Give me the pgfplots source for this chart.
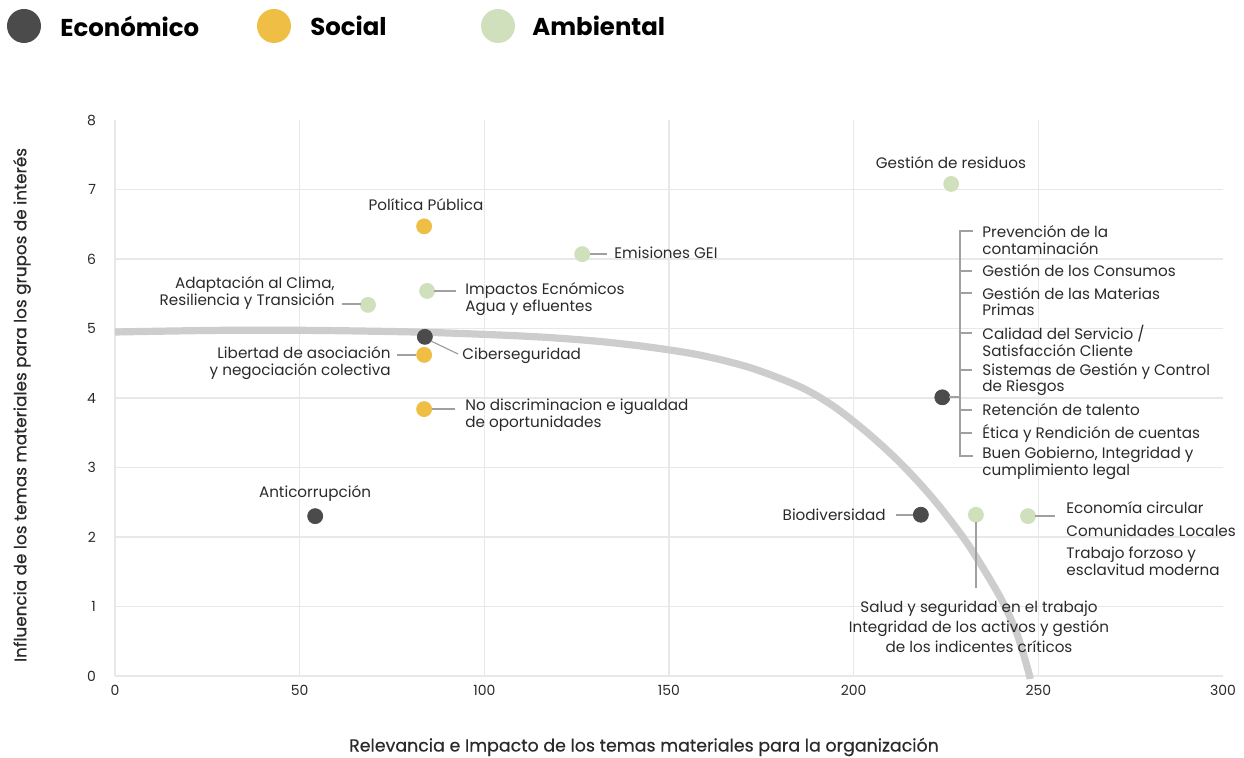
\documentclass[border=0pt]{standalone}
\usepackage{fontspec}
\setmainfont{Poppins}
\usepackage{pgfplots}
\pgfplotsset{compat=1.18}
\definecolor{eco}{HTML}{4B4B4B}
\definecolor{soc}{HTML}{EFBE45}
\definecolor{amb}{HTML}{D0E0BD}
\definecolor{curvec}{HTML}{CDCDCD}
\definecolor{gridc}{HTML}{E8E8E8}
\definecolor{lead}{HTML}{A0A0A0}
\definecolor{txt}{HTML}{2A2A2A}
\newcommand{\lf}{\fontsize{7.6}{8.4}\selectfont}
\begin{document}
\begin{tikzpicture}
\begin{axis}[
  scale only axis, width=554pt, height=278pt,
  xmin=0, xmax=300, ymin=0, ymax=8,
  axis line style={draw=none},
  tick style={draw=none},
  xtick={0,50,...,250}, extra x ticks={300}, extra x tick style={grid=none},
  ytick={0,...,7}, extra y ticks={8}, extra y tick style={grid=none},
  grid=major, grid style={gridc, line width=0.6pt},
  clip=false,
  tick label style={font=\fontsize{7}{8}\selectfont, text=txt},
  /pgf/number format/assume math mode=true,
  yticklabel style={xshift=-6pt},
  xticklabel style={yshift=-1pt},
]
\addplot[curvec, line width=3.6pt, smooth, tension=0.5] coordinates {
(0,4.950) (23.02,4.970) (36.56,4.976) (50.10,4.974) (63.65,4.966) (83.94,4.946)
(104.25,4.906) (117.79,4.869) (131.33,4.813) (144.87,4.731) (158.41,4.617)
(171.95,4.437) (185.49,4.161) (194.43,3.886) (203.63,3.504) (212.57,3.069)
(221.51,2.551) (230.71,1.914) (239.64,1.138) (244.25,0.601) (247.23,0.082) (247.77,-0.043)};
% Economico
\addplot[only marks, mark=*, mark size=3.75pt, color=eco] coordinates {
(83.9,4.88) (224.0,4.01) (54.2,2.30) (218.2,2.32)};
% Social
\addplot[only marks, mark=*, mark size=3.75pt, color=soc] coordinates {
(83.7,6.47) (83.7,4.62) (83.7,3.84)};
% Ambiental
\addplot[only marks, mark=*, mark size=3.75pt, color=amb] coordinates {
(226.4,7.08) (126.5,6.07) (84.5,5.54) (68.5,5.34) (233.1,2.32) (247.2,2.30)};
\end{axis}
\begin{scope}[x=0.5pt, y=-0.5pt, shift={(-57.5pt,338pt)}, every node/.style={text=txt, font=\lf, inner sep=0pt}]
% legend
\fill[eco] (24,26) circle (17);
\fill[soc] (274,26) circle (17);
\fill[amb] (498,26) circle (17);
\node[anchor=west, font=\fontsize{12.2}{14}\selectfont\bfseries, text=black] at (60,26) {Económico};
\node[anchor=west, font=\fontsize{12.2}{14}\selectfont\bfseries, text=black] at (310,26) {Social};
\node[anchor=west, font=\fontsize{12.2}{14}\selectfont\bfseries, text=black] at (532,26) {Ambiental};
% axis titles
\node[font=\fontsize{8.7}{10}\selectfont\addfontfeature{FakeBold=0.4}] at (644,747) {Relevancia e Impacto de los temas materiales para la organización};
\node[font=\fontsize{8.4}{10}\selectfont\addfontfeature{FakeBold=0.4}, rotate=90] at (22,405) {Influencia de los temas materiales para los grupos de interés};
% leader lines
\begin{scope}[lead, line width=0.6pt]
\draw (342,304) -- (361,304);
\draw (434,291) -- (456,291);
\draw (590,254) -- (607,254);
\draw (397,355) -- (416,355);
\draw (431,341) -- (458,354);
\draw (432,409) -- (455,409);
\draw (896,515) -- (913,515);
\draw (976,522) -- (976,588);
\draw (1035,516) -- (1055,516);
\draw (949,397) -- (960,397);
\draw (973,231) -- (960,231) -- (960,456) -- (973,456);
\foreach \yy in {271,293,333,370,410,433} \draw (960,\yy) -- (972,\yy);
\end{scope}
% labels
\node at (426,205) {Política Pública};
\node[anchor=east, align=right] at (335,293) {Adaptación al Clima,\\Resiliencia y Transición};
\node[anchor=west, align=left] at (465,299) {Impactos Ecnómicos\\Agua y efluentes};
\node[anchor=west] at (614,253) {Emisiones GEI};
\node[anchor=west] at (462,356) {Ciberseguridad};
\node[anchor=east, align=right] at (391,363) {Libertad de asociación\\y negociación colectiva};
\node[anchor=west, align=left] at (465,415) {No discriminacion e igualdad\\de oportunidades};
\node at (315,493) {Anticorrupción};
\node at (951,163) {Gestión de residuos};
\node[anchor=west, align=left] at (982,240) {Prevención de la\\contaminación};
\node[anchor=west] at (982,271) {Gestión de los Consumos};
\node[anchor=west, align=left] at (982,301.5) {Gestión de las Materias\\Primas};
\node[anchor=west, align=left] at (982,341) {Calidad del Servicio /\\Satisfacción Cliente};
\node[anchor=west, align=left] at (982,379.5) {Sistemas de Gestión y Control\\de Riesgos};
\node[anchor=west] at (982,410) {Retención de talento};
\node[anchor=west] at (982,433) {Ética y Rendición de cuentas};
\node[anchor=west, align=left] at (982,463) {Buen Gobierno, Integridad y\\cumplimiento legal};
\node[anchor=east] at (886,515) {Biodiversidad};
\node[align=center, font=\fontsize{7.6}{10}\selectfont] at (979,627) {Salud y seguridad en el trabajo\\Integridad de los activos y gestión\\de los indicentes críticos};
\node[anchor=west] at (1066,508) {Economía circular};
\node[anchor=west] at (1066,531) {Comunidades Locales};
\node[anchor=west, align=left] at (1066,561) {Trabajo forzoso y\\esclavitud moderna};
\pgfresetboundingbox
\path (0,0) rectangle (1244,758);
\end{scope}
\end{tikzpicture}
\end{document}
